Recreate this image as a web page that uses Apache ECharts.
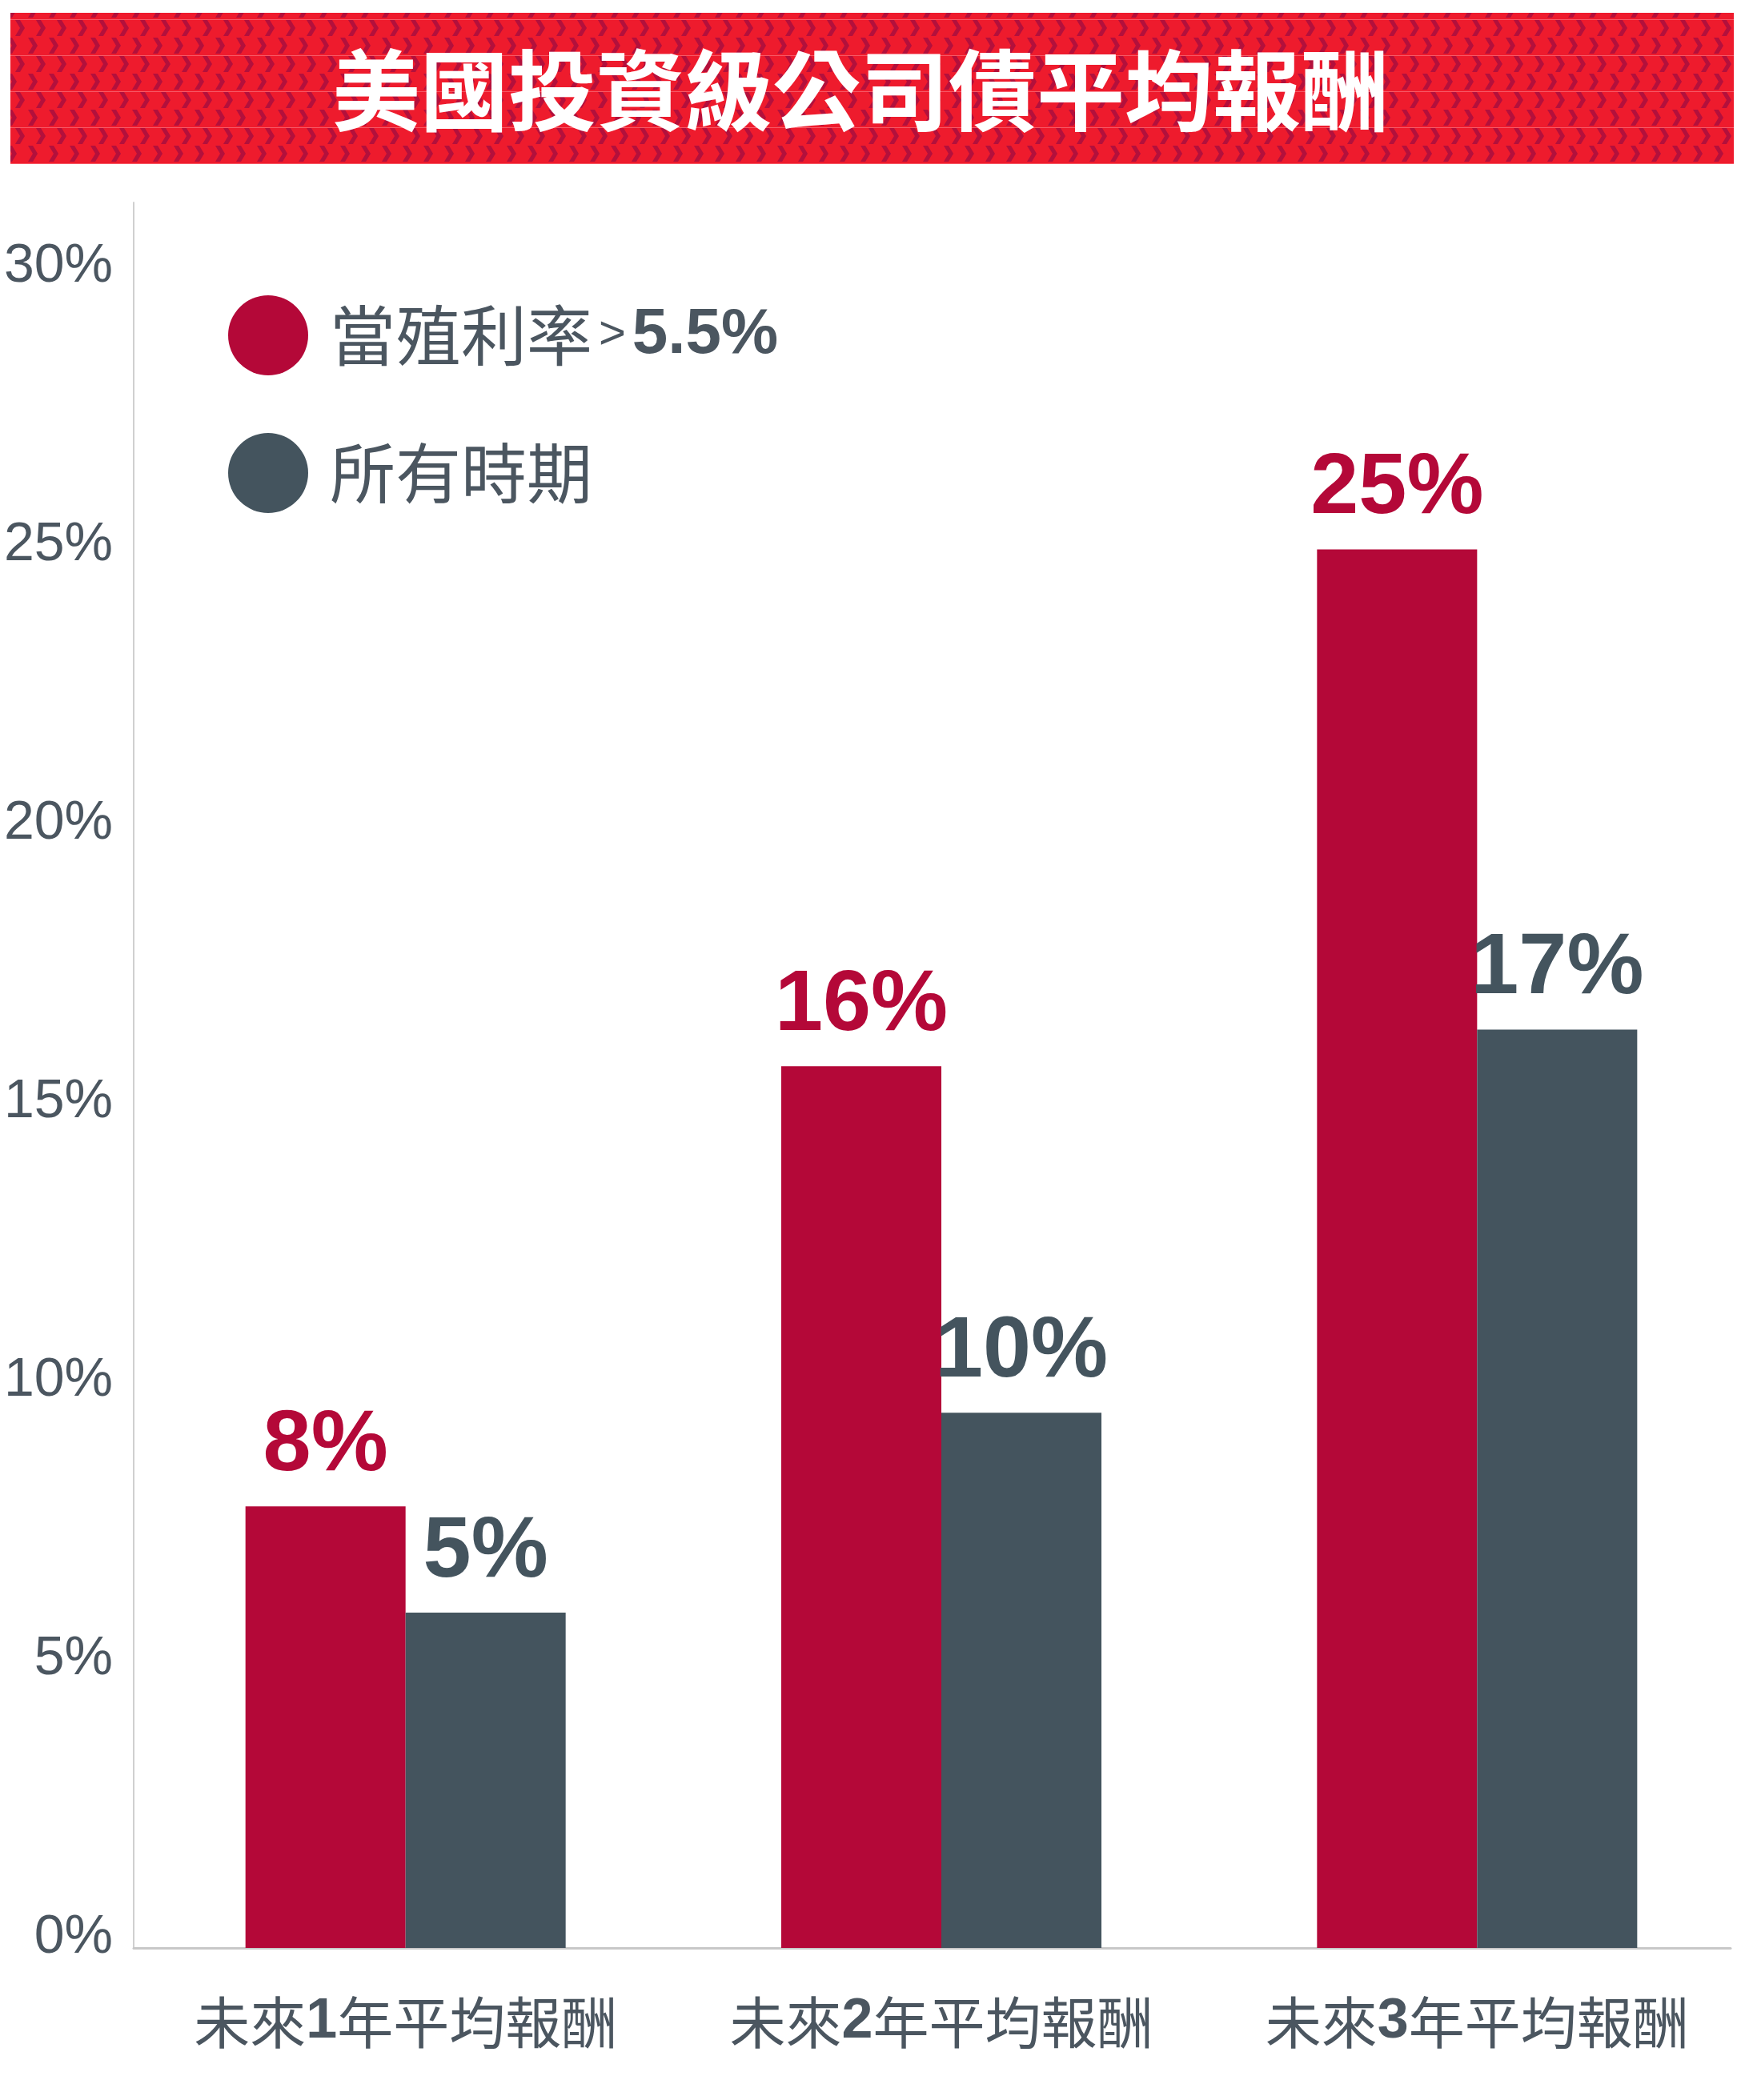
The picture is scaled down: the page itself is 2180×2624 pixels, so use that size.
<!DOCTYPE html>
<html>
<head>
<meta charset="utf-8">
<script src="https://cdn.jsdelivr.net/npm/echarts@6/dist/echarts.min.js"></script>
<style>
html,body{margin:0;padding:0;background:#ffffff;}
#chart{width:2180px;height:2624px;}
</style>
</head>
<body>
<div id="chart"></div>
<script>
// ---- data ----
const titleText = '美國投資級公司債平均報酬';
const categoryYears = ['1', '2', '3'];
const categoryPrefix = '未來';
const categorySuffix = '年平均報酬';
const seriesNames = ['當殖利率>5.5%', '所有時期'];
const highYieldValues = [7.93, 15.83, 25.11];
const allPeriodValues = [6.02, 9.61, 16.49];
const highYieldLabels = ['8%', '16%', '25%'];
const allPeriodLabels = ['5%', '10%', '17%'];
const yMin = 0;
const yMax = 31.34;
const yInterval = 5;

// ---- styles ----
const RED = '#B40838';
const GRAY = '#44545E';
const TEXT = '#4B5660';
const LATIN = "'Liberation Sans', Arial, 'Noto Sans CJK TC', sans-serif";
const CJK = "'Noto Sans CJK TC', 'Liberation Sans', sans-serif";

// header pattern tile
const tile = document.createElement('canvas');
tile.width = 26; tile.height = 45;
const g = tile.getContext('2d');
g.fillStyle = '#EE1B2D';
g.fillRect(0, 0, 26, 45);
g.fillStyle = '#B3103C';
function chev(x0, y0) {
  g.beginPath();
  g.moveTo(x0, y0); g.lineTo(x0 + 6, y0); g.lineTo(x0 + 12, y0 + 10);
  g.lineTo(x0 + 6, y0 + 20); g.lineTo(x0, y0 + 20); g.lineTo(x0 + 6, y0 + 10);
  g.closePath(); g.fill();
}
chev(19, 25); chev(-7, 25);
chev(9, 2);
g.fillStyle = 'rgba(255,140,150,0.55)';
g.fillRect(0, 24, 26, 1);

const chart = echarts.init(document.getElementById('chart'));

const gridTop = 253;
const gridHeight = 2181;

const option = {
  backgroundColor: '#ffffff',
  animation: false,
  graphic: [
    {
      type: 'rect',
      shape: { x: 13, y: 16, width: 2153, height: 189 },
      style: { fill: { image: tile, repeat: 'repeat' } },
      z: 0
    },
    {
      type: 'text',
      style: {
        text: titleText,
        x: 1075, y: 113,
        fill: '#ffffff',
        font: "bold 110px 'Noto Sans CJK TC'",
        textAlign: 'center',
        textVerticalAlign: 'middle'
      },
      z: 1
    }
  ],
  legend: {
    data: seriesNames,
    orient: 'vertical',
    left: 280,
    top: 364,
    itemWidth: 100,
    itemHeight: 100,
    itemGap: 72,
    icon: 'circle',
    formatter: function (name) {
      if (name === seriesNames[0]) {
        return '{a|當殖利率}{b|>}{c|5.5%}';
      }
      return '{a|' + name + '}';
    },
    textStyle: {
      color: TEXT,
      rich: {
        a: { fontSize: 82, fontFamily: CJK, color: TEXT, padding: [0, 0, 0, 22] },
        b: { fontSize: 58, fontFamily: LATIN, color: TEXT, padding: [0, 8, 0, 8] },
        c: { fontSize: 80, fontFamily: LATIN, fontWeight: 'bold', color: TEXT }
      }
    }
  },
  grid: [
    { left: 172, top: gridTop, width: 2018, height: gridHeight },
    { left: 167, top: gridTop, width: 1995, height: gridHeight }
  ],
  xAxis: [
    {
      type: 'category',
      gridIndex: 0,
      data: categoryYears,
      axisLine: { show: false },
      axisTick: { show: false },
      axisLabel: {
        margin: 58,
        formatter: function (v) {
          return '{n|' + categoryPrefix + '}{d|' + v + '}{n|' + categorySuffix + '}';
        },
        rich: {
          n: { fontSize: 70, fontFamily: CJK, color: TEXT },
          d: { fontSize: 70, fontFamily: LATIN, fontWeight: 'bold', color: TEXT }
        }
      }
    },
    {
      type: 'category',
      gridIndex: 1,
      data: categoryYears,
      axisLine: { show: true, lineStyle: { color: '#C8C8C8', width: 3 } },
      axisTick: { show: false },
      axisLabel: { show: false }
    }
  ],
  yAxis: [
    {
      type: 'value',
      gridIndex: 0,
      min: yMin, max: yMax, interval: yInterval,
      show: false,
      splitLine: { show: false }
    },
    {
      type: 'value',
      gridIndex: 1,
      min: yMin, max: yMax, interval: yInterval,
      axisLine: { show: true, lineStyle: { color: '#D0D0D0', width: 2 } },
      axisTick: { show: false },
      splitLine: { show: false },
      axisLabel: {
        margin: 26,
        fontSize: 68,
        fontFamily: LATIN,
        color: TEXT,
        verticalAlign: 'bottom',
        lineHeight: 26,
        formatter: function (v) {
          return (Math.abs(v % yInterval) < 1e-9) ? v + '%' : '';
        }
      }
    }
  ],
  series: [
    {
      name: seriesNames[0],
      type: 'bar',
      xAxisIndex: 0, yAxisIndex: 0,
      data: highYieldValues,
      barWidth: 200,
      barGap: '0%',
      itemStyle: { color: RED },
      label: {
        show: true,
        position: 'top',
        distance: 21,
        formatter: function (p) { return highYieldLabels[p.dataIndex]; },
        fontSize: 108,
        fontWeight: 'bold',
        fontFamily: LATIN,
        color: RED
      }
    },
    {
      name: seriesNames[1],
      type: 'bar',
      xAxisIndex: 0, yAxisIndex: 0,
      data: allPeriodValues,
      barWidth: 200,
      barGap: '0%',
      itemStyle: { color: GRAY },
      label: {
        show: true,
        position: 'top',
        distance: 21,
        formatter: function (p) { return allPeriodLabels[p.dataIndex]; },
        fontSize: 108,
        fontWeight: 'bold',
        fontFamily: LATIN,
        color: GRAY
      }
    }
  ]
};

chart.setOption(option);
</script>
</body>
</html>
